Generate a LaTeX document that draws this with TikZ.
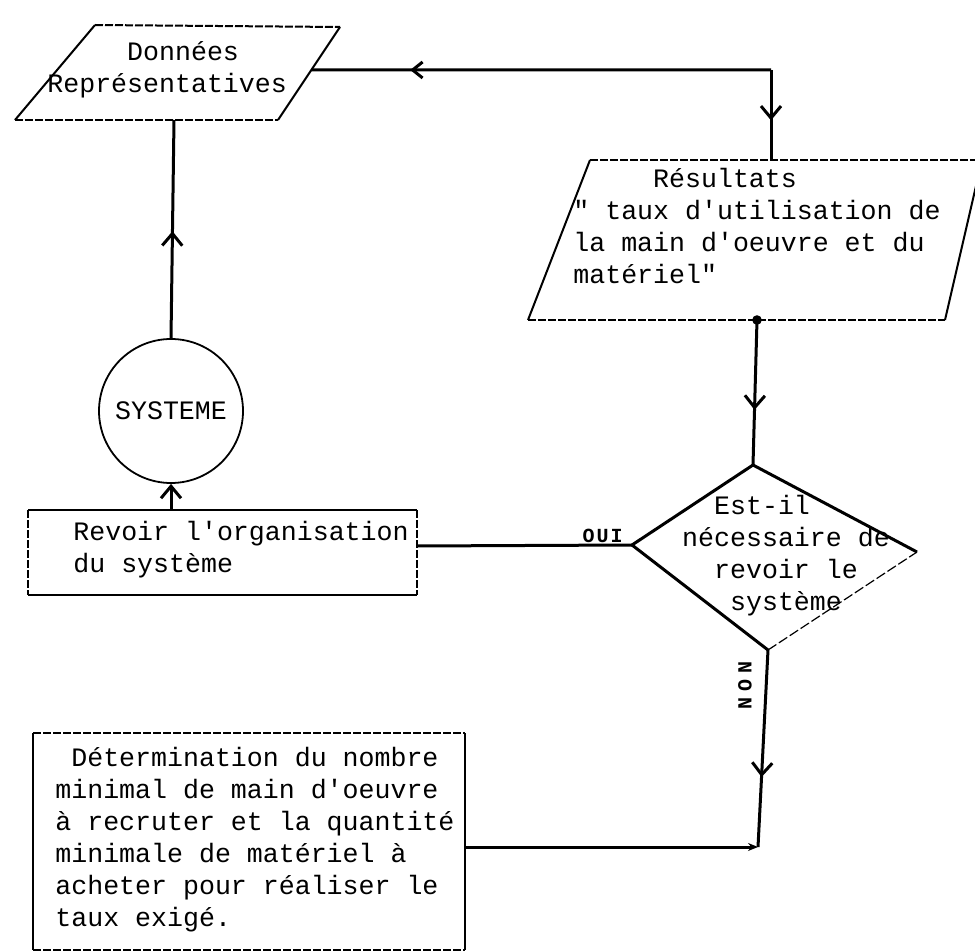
\documentclass[tikz,border=0pt]{standalone}
\usepackage{fontspec}
\setmonofont{Liberation Mono}
\usetikzlibrary{arrows.meta,decorations.markings,calc}
\tikzset{
  conn/.style={line width=1.5pt},
  edgeline/.style={line width=1pt},
  dashedge/.style={line width=1pt, dash pattern=on 4pt off 1pt},
  txt/.style={font=\ttfamily\fontsize{13.3}{16}\selectfont, inner sep=0pt, align=left, anchor=west},
  lbl/.style={font=\ttfamily\bfseries\fontsize{10}{10}\selectfont, inner sep=0pt},
  tipbarb/.style={-{Straight Barb[length=6pt,width=10pt]}},
  midfwd/.style={postaction={decorate}, decoration={markings, mark=at position #1 with {\arrow{Straight Barb[length=6pt,width=10pt]}}}},
  midback/.style={postaction={decorate}, decoration={markings, mark=at position #1 with {\arrowreversed{Straight Barb[length=5pt,width=8pt]}}}}
}
\begin{document}
\begin{tikzpicture}[x=0.5pt,y=-0.5pt]
\useasboundingbox (0,0) rectangle (975,952);
\fill[white] (0,0) rectangle (975,952);

% Données Représentatives (parallelogram)
\coordinate (d1) at (95,25);
\coordinate (d2) at (340,27);
\coordinate (d3) at (278,120);
\coordinate (d4) at (15,120);
\draw[dashedge] (d1) -- (d2);
\draw[dashedge] (d4) -- (d3);
\draw[edgeline] (d2) -- (d3);
\draw[edgeline] (d4) -- (d1);
\node[txt] (donnees) at (47,70) {\phantom{xxxxx}Données\\Représentatives};
\coordinate (dR) at ($(d2)!0.462!(d3)$);
\coordinate (dB) at (174,120);

% Résultats (parallelogram)
\coordinate (r1) at (590,160);
\coordinate (r2) at (982,160);
\coordinate (r3) at (945,320);
\coordinate (r4) at (528,320);
\draw[dashedge] (r1) -- (r2);
\draw[dashedge] (r4) -- (r3);
\draw[edgeline] (r3) -- (r2);
\draw[edgeline] (r4) -- (r1);
\node[txt] (resultats) at (573,226) {\phantom{xxxxx}Résultats\\" taux d'utilisation de\\la main d'oeuvre et du\\matériel"};
\coordinate (rT) at (771,160);
\coordinate (rB) at (757,320);

% Decision diamond
\coordinate (qT) at (753,465);
\coordinate (qL) at (632,545);
\coordinate (qR) at (917,552);
\coordinate (qB) at (768,650);
\draw[conn] (qL) -- (qT) -- (qR);
\draw[conn] (qL) -- (qB);
\draw[line width=0.6pt, dash pattern=on 5pt off 1.5pt] (qB) -- (qR);
\node[txt, align=center, anchor=center] (question) at (786,556) {Est-il\phantom{xxx}\\nécessaire de\\revoir le\\système};

% SYSTEME circle
\node[circle, draw, line width=0.9pt, minimum size=72pt, inner sep=0pt, font=\ttfamily\fontsize{13.3}{16}\selectfont] (sys) at (171,411) {SYSTEME};

% Revoir l'organisation box
\coordinate (v1) at (28,510);
\coordinate (v2) at (417,510);
\coordinate (v3) at (417,595);
\coordinate (v4) at (28,595);
\draw[edgeline] (v1) -- (v2);
\draw[edgeline] (v4) -- (v3);
\draw[dashedge] (v1) -- (v4);
\draw[dashedge] (v2) -- (v3);
\node[txt] (revoir) at (73,550) {Revoir l'organisation\\du système};
\coordinate (vT) at (171,510);
\coordinate (vR) at (417,546);

% Détermination box
\coordinate (t1) at (33,733);
\coordinate (t2) at (465,733);
\coordinate (t3) at (465,950);
\coordinate (t4) at (33,950);
\draw[dashedge] (t1) -- (t2);
\draw[dashedge] (t4) -- (t3);
\draw[edgeline] (t1) -- (t4);
\draw[edgeline] (t2) -- (t3);
\node[txt] (determination) at (55,840) {\phantom{x}Détermination du nombre\\minimal de main d'oeuvre\\à recruter et la quantité\\minimale de matériel à\\acheter pour réaliser le\\taux exigé.};
\coordinate (tR) at (465,847);

% Connectors
\coordinate (k1) at (771,70);
\coordinate (k2) at (758,847);
\draw[conn, midback=0.215] (dR) -- (k1);
\draw[conn, midfwd=0.56] (k1) -- (rT);
\draw[conn, midfwd=0.49] (sys.north) -- (dB);
\draw[conn, tipbarb] (vT) -- (sys.south);
\draw[conn] (vR) -- (qL);
\node[lbl, anchor=south east] (oui) at (623,543) {O\kern1ptU\kern1ptI};
\draw[conn, midfwd=0.62] (rB) -- (qT);
\fill (rB) circle (2.4pt);
\draw[conn, midfwd=0.645] (qB) -- (k2);
\draw[conn, -{Stealth[length=5pt,width=4pt]}] (tR) -- (k2);
\node[lbl, rotate=-90] (non) at (745,686) {N\kern3ptO\kern3ptN};
\end{tikzpicture}
\end{document}
